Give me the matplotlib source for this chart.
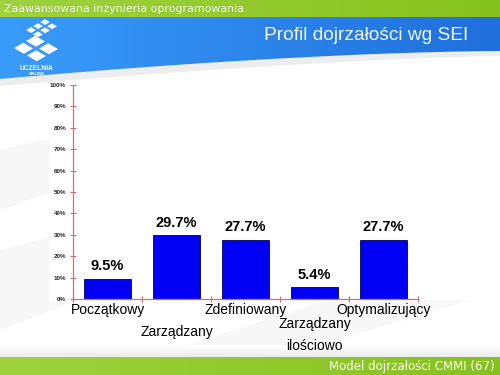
import numpy as np
import matplotlib
matplotlib.use("Agg")
import matplotlib.pyplot as plt
from matplotlib.patches import Polygon, Rectangle

# chart data
categories = ["Początkowy", "Zarządzany", "Zdefiniowany", "Zarządzany\nilościowo", "Optymalizujący"]
values = [9.5, 29.7, 27.7, 5.4, 27.7]
yticks = [0, 10, 20, 30, 40, 50, 60, 70, 80, 90, 100]

header = "Zaawansowana inżynieria oprogramowania"
title = "Profil dojrzałości wg SEI"
footer = "Model dojrzałości CMMI (67)"

plt.rcParams['font.family'] = ['Liberation Sans', 'DejaVu Sans']

fig = plt.figure(figsize=(5, 3.75), dpi=100)
fig.patch.set_facecolor("white")

# background layer in pixel coordinates
bg = fig.add_axes([0, 0, 1, 1])
bg.axis("off")

# faint swooshes in the background
for pts in [[(0, 150), (230, 95), (330, 95), (0, 210)],
            [(0, 250), (300, 170), (420, 170), (0, 330)],
            [(150, 357), (330, 300), (470, 300), (280, 357)]]:
    bg.add_patch(Polygon(pts, closed=True, color="#f7f7f7", lw=0, zorder=0))
# light band above the footer
grad_v = np.linspace(0, 1, 64)[:, None]
bg.imshow(grad_v, extent=(0, 500, 357, 345), aspect="auto",
          cmap=matplotlib.colors.LinearSegmentedColormap.from_list("w", ["#ffffff", "#ececec"]), zorder=0)
# white panel behind the chart
bg.add_patch(Rectangle((49, 80), 371, 222, color="white", lw=0, zorder=0.5))

# grey shadow under the banner curve
xs = np.linspace(0, 500, 60)
curve = 51 + 28 * ((500 - xs) / 500) ** 1.6
shadow = 56 + 30 * ((500 - xs) / 500) ** 1.4
bg.fill_between(xs, curve, shadow, color="#ededed", lw=0, zorder=0.6)

# blue banner with gradient, clipped by curve
grad = np.linspace(0, 1, 256)[None, :]
cmap_blue = matplotlib.colors.LinearSegmentedColormap.from_list("b", ["#3a9cfa", "#1f6fdc"])
im = bg.imshow(grad, extent=(0, 500, 80, 17), aspect="auto", cmap=cmap_blue, zorder=1)
verts = [(0, 17), (500, 17)] + [(x, y) for x, y in zip(xs[::-1], curve[::-1])]
clip = Polygon(verts, closed=True, transform=bg.transData, fill=False, lw=0)
bg.add_patch(clip)
im.set_clip_path(clip)

# green bars top and bottom
cmap_green = matplotlib.colors.LinearSegmentedColormap.from_list("g", ["#9fd23c", "#86c21e"])
bg.imshow(grad, extent=(0, 500, 17, 0), aspect="auto", cmap=cmap_green, zorder=2)
bg.imshow(grad, extent=(0, 500, 375, 357), aspect="auto", cmap=cmap_green, zorder=2)
bg.set_xlim(0, 500)
bg.set_ylim(375, 0)


def tiles(origin, u, v, ni, nj, gap=0.12):
    u = np.array(u)
    v = np.array(v)
    for i in range(ni):
        for j in range(nj):
            o = np.array(origin) + i * u + j * v
            pts = [o + gap * (u + v), o + (1 - gap) * u + gap * v,
                   o + (1 - gap) * (u + v), o + gap * u + (1 - gap) * v]
            bg.add_patch(Polygon(pts, closed=True, color="white", lw=0, zorder=3))


# logo
tiles((11, 48), (12, -7), (13, 7.5), 2, 2)
tiles((24, 30), (7, -4), (7, 4.2), 3, 2, gap=0.15)
bg.text(37, 68, "UCZELNIA", color="white", fontsize=4.8, fontweight="bold",
        ha="center", va="center", zorder=3)
bg.text(37, 74, "ONLINE", color="white", fontsize=3.2, fontweight="bold",
        ha="center", va="center", zorder=3)

bg.text(4, 8.5, header, color="#f2f2f2", fontsize=7.9, family="DejaVu Sans",
        ha="left", va="center", zorder=4)
bg.text(468, 35, title, color="#f4f4f4", fontsize=13.8, ha="right", va="center", zorder=4)
bg.text(495, 366.5, footer, color="white", fontsize=8.5, family="DejaVu Sans",
        ha="right", va="center", zorder=4)

# the chart
ax = fig.add_axes([73 / 500, 76 / 375, 345 / 500, 214 / 375])
ax.set_facecolor("none")
axis_col = "#d07070"
x = np.arange(len(categories))
ax.bar(x, values, width=0.667, color="#0000f5", edgecolor="#00005a", linewidth=0.6)
ax.set_xlim(-0.5, len(categories) - 0.5)
ax.set_ylim(0, 100)

for sp in ["top", "right"]:
    ax.spines[sp].set_visible(False)
for sp in ["left", "bottom"]:
    ax.spines[sp].set_color(axis_col)
    ax.spines[sp].set_linewidth(0.9)

ax.set_yticks(yticks)
ax.set_yticklabels([f"{t}%" for t in yticks], fontsize=4.5, fontweight="bold")
ax.tick_params(axis="y", colors=axis_col, length=4, direction="inout", width=0.8, pad=3)
for lab in ax.get_yticklabels():
    lab.set_color("#222222")

ax.set_xticks(np.arange(len(categories) + 1) - 0.5)
ax.set_xticklabels([])
ax.tick_params(axis="x", colors=axis_col, length=4, direction="inout", width=0.8)

# staggered category labels
label_y = [-0.051, -0.154, -0.051, -0.084, -0.051]
for xi, name, ly in zip(x, categories, label_y):
    ax.text(xi, ly, name, transform=ax.get_xaxis_transform(), ha="center",
            va="top" if "\n" in name else "center",
            fontsize=10, color="black", linespacing=1.7)

for xi, val in zip(x, values):
    ax.annotate(f"{val}%", (xi, val), xytext=(0, 4), textcoords="offset points",
                ha="center", va="bottom", fontsize=10.5, fontweight="bold")

fig.savefig("out.png", dpi=100)
